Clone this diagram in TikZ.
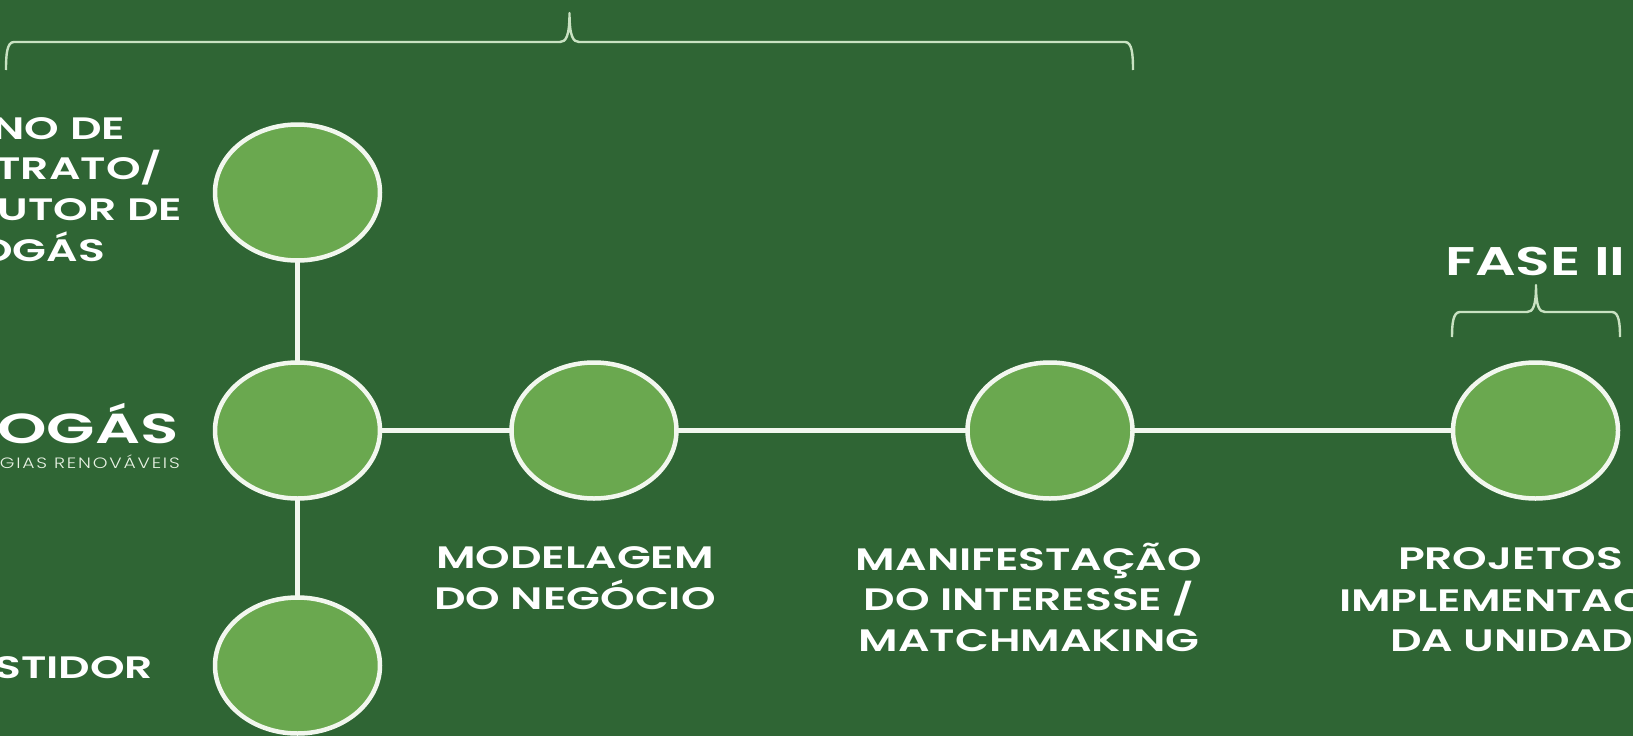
\documentclass[tikz,border=0pt]{standalone}
\usepackage{fontspec}
\setmainfont{Poppins}
\newfontfamily\lab[FakeStretch=1.42]{Poppins SemiBold}
\newfontfamily\logofont[FakeStretch=1.5]{Poppins SemiBold}
\newfontfamily\logothin[LetterSpace=12,FakeStretch=1.25]{Poppins Light}
\usetikzlibrary{shapes.geometric}
\definecolor{bg}{HTML}{2F6534}
\definecolor{fillg}{HTML}{6AA84F}
\definecolor{linew}{HTML}{F2F7EE}
\definecolor{brace}{HTML}{C9E2C2}
\tikzset{
  ell/.style={ellipse,draw=linew,fill=fillg,line width=4.5pt,minimum width=165pt,minimum height=136pt,inner sep=0pt,outer sep=0pt},
  link/.style={draw=linew,line width=4.5pt},
  bracepath/.style={draw=brace,line width=2.4pt,line join=round},
  lbl/.style={text=white,inner sep=0pt,outer sep=0pt,font=\fontsize{31}{40.6}\selectfont\lab,text height=22pt,text depth=0pt},
  lblc/.style={text=white,inner sep=0pt,outer sep=0pt,align=center,font=\fontsize{31}{40.6}\selectfont\lab},
}
\begin{document}
\begin{tikzpicture}[x=1pt,y=-1pt]
\useasboundingbox (0,0) rectangle (1633,736);
\clip (0,0) rectangle (1633,736);
\fill[bg] (0,0) rectangle (1633,736);

\node[ell] (e1) at (297.5,192.5) {};
\node[ell] (e2) at (297.5,430.5) {};
\node[ell] (e3) at (297.5,665.5) {};
\node[ell] (e4) at (594,430.5) {};
\node[ell] (e5) at (1050,430.5) {};
\node[ell] (e6) at (1535.5,430.5) {};

\draw[link] (e1) -- (e2);
\draw[link] (e2) -- (e3);
\draw[link] (e2) -- (e4);
\draw[link] (e4) -- (e5);
\draw[link] (e5) -- (e6);

% braces
\coordinate (b1l) at (6,70);
\coordinate (b1t) at (569.5,13);
\coordinate (b1r) at (1133,70);
\draw[bracepath] (b1l) .. controls (6,54) and (7,42) .. (14,42) -- (560,42)
  .. controls (566,42) and (569.5,36) .. (b1t)
  .. controls (569.5,36) and (573,42) .. (579,42) -- (1125,42)
  .. controls (1132,42) and (1133,54) .. (b1r);
\coordinate (b2l) at (1452,337);
\coordinate (b2t) at (1536,285);
\coordinate (b2r) at (1620,337);
\draw[bracepath] (b2l) .. controls (1452,324) and (1453,312) .. (1460,312) -- (1527,312)
  .. controls (1533,312) and (1536,306) .. (b2t)
  .. controls (1536,306) and (1539,312) .. (1545,312) -- (1612,312)
  .. controls (1619,312) and (1620,324) .. (b2r);

% left labels
\node[lbl,anchor=east] (t1) at (125,128) {NO DE};
\node[lbl,anchor=east] (t2) at (162,168) {TRATO/};
\node[lbl,anchor=east] (t3) at (182,209) {UTOR DE};
\node[lbl,anchor=east] (t4) at (105,250) {OGÁS};
\node[anchor=east,inner sep=0pt,text=white,font=\fontsize{42}{46}\selectfont\logofont,text height=29pt,text depth=0pt] (t5) at (179,429) {OGÁS};
\node[anchor=east,inner sep=0pt,text=white!85!fillg,font=\fontsize{15}{18}\selectfont\logothin,text height=11pt,text depth=0pt] (t6) at (180,463) {GIAS RENOVÁVEIS};
\node[lbl,anchor=east] (t7) at (153,667) {STIDOR};

% lower labels
\node[lblc,anchor=north] (m) at (575,547) {MODELAGEM\\DO NEGÓCIO};
\node[lblc,anchor=north] (n) at (1029,543) {MANIFESTAÇÃO\\DO INTERESSE /\\MATCHMAKING};
\node[lbl,anchor=west] (p1) at (1398,558) {PROJETOS};
\node[lbl,anchor=west] (p2) at (1339,600) {IMPLEMENTAC};
\node[lbl,anchor=west] (p3) at (1390,640) {DA UNIDAD};
\node[lbl,anchor=west,font=\fontsize{40}{44}\selectfont\lab,text height=28pt] (f) at (1445,261) {FASE II};
\end{tikzpicture}
\end{document}
